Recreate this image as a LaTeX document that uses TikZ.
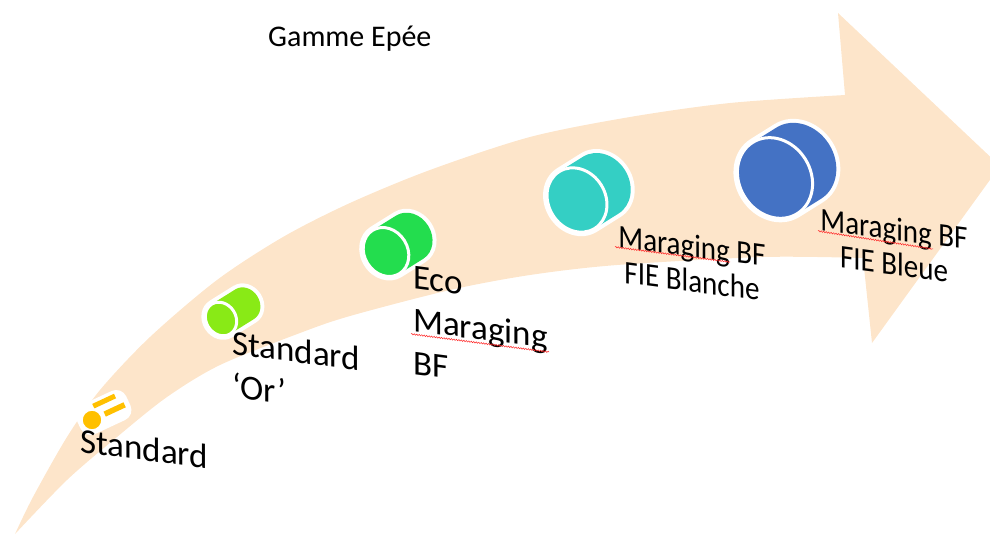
\documentclass[tikz,border=0pt]{standalone}
\usepackage{fontspec}
\setmainfont{Carlito}
\usetikzlibrary{decorations.pathmorphing,calc}
\definecolor{peach}{RGB}{253,229,202}
\definecolor{cgold}{RGB}{255,192,0}
\definecolor{clime}{RGB}{137,234,22}
\definecolor{cgreen}{RGB}{35,221,78}
\definecolor{cteal}{RGB}{52,207,196}
\definecolor{cblue}{RGB}{68,114,196}
\newcommand\mycyl[4]{%
 \begin{scope}[shift={(#1,#2)},rotate=32]
  \pgfmathsetmacro\cb{#3}
  \pgfmathsetmacro\ca{0.85*#3}
  \pgfmathsetmacro\hb{#3+4}
  \pgfmathsetmacro\ha{0.85*#3+4}
  \fill[white] (0,0) ellipse [x radius=\ha, y radius=\hb]
               (28,0) ellipse [x radius=\ha, y radius=\hb]
               (0,-\hb) -- (28,-\hb) -- (28,\hb) -- (0,\hb) -- cycle;
  \fill[#4] (28,0) ellipse [x radius=\ca, y radius=\cb]
            (0,-\cb) -- (28,-\cb) -- (28,\cb) -- (0,\cb) -- cycle;
  \filldraw[fill=#4, draw=white, line width=3pt] (0,0) ellipse [x radius=\ca, y radius=\cb];
 \end{scope}}
\tikzset{
  lbla/.style={inner sep=0pt, yslant=-0.13, font=\fontsize{35}{43}\selectfont, align=left, anchor=base west},
  lblb/.style={inner sep=0pt, yslant=-0.13, xscale=0.88, font=\fontsize{33}{35}\selectfont, align=center, anchor=base},
  squig/.style={red!85, line width=0.5pt, decorate, decoration={snake, segment length=2.5pt, amplitude=0.7pt}}
}
\begin{document}
\begin{tikzpicture}[x=1pt,y=-1pt]
\useasboundingbox (0,0) rectangle (990,535);
\begin{scope}
\clip (0,0) rectangle (990,535);
\fill[peach] plot[smooth] coordinates {(15,534) (33,497) (67,437) (100,390) (150,337) (217,280) (283,237) (350,203) (430,170) (530,137) (630,117) (730,103) (845,95)}
  -- (838,13) -- (1000,166) -- (872,343)
  -- plot[smooth] coordinates {(863,258) (763,257) (617,265) (530,275) (450,290) (350,316) (300,333) (220,365) (167,397) (117,437) (67,480) (15,534)} -- cycle;
\end{scope}

% small gold cylinder
\begin{scope}[shift={(92,420)},rotate=25]
  \fill[white, rounded corners=11pt] (-14,-18) -- (41,-18) -- (41,14) -- (-14,14) -- cycle;
  \draw[cgold, line width=5pt] (7,-12) -- (31,-12);
  \draw[cgold, line width=5.5pt] (14,0) -- (36,0);
  \filldraw[fill=cgold, draw=white, line width=2.5pt] (0,0) circle [radius=10.5];
\end{scope}

\mycyl{221}{319}{17.5}{clime}
\mycyl{386}{252}{25.5}{cgreen}
\mycyl{577}{200}{33.5}{cteal}
\mycyl{775}{178}{42}{cblue}

\node[inner sep=0pt, anchor=base west, font=\fontsize{30}{36}\selectfont] (title) at (268,47) {Gamme Epée};

\node[lbla] (l1) at (80,452) {Standard};
\node[lbla] (l2) at (232,397) {Standard\\‘Or’};
\node[lbla] (l3) at (413,374) {Eco\\Maraging\\BF};
\node[lblb] (l4) at (692,292) {Maraging BF\\FIE Blanche};
\node[lblb] (l5) at (894,275) {Maraging BF\\FIE Bleue};

\draw[squig] (411,334) -- (549,352);
\draw[squig] (615,247) -- (730,262);
\draw[squig] (818,231) -- (933,249);
\end{tikzpicture}
\end{document}
